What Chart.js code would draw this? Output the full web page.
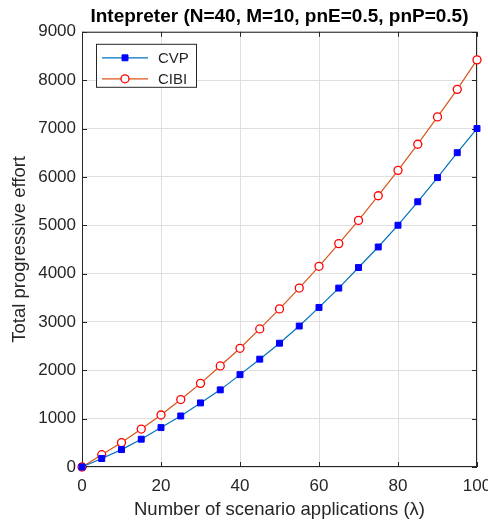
<!DOCTYPE html>
<html>
<head>
<meta charset="utf-8">
<script src="https://cdn.jsdelivr.net/npm/chart.js@4.4.1/dist/chart.umd.min.js"></script>
<style>
  html, body { margin: 0; padding: 0; background: #fff; }
  #chart { display: block; }
</style>
</head>
<body>
<canvas id="chart" width="488" height="524"></canvas>
<script>
// values
const lambdas = [0, 5, 10, 15, 20, 25, 30, 35, 40, 45, 50, 55, 60, 65, 70, 75, 80, 85, 90, 95, 100]
const cvpEffort = [0, 175, 360, 575, 815, 1055, 1325, 1595, 1910, 2230, 2560, 2915, 3300, 3700, 4125, 4550, 5000, 5485, 5985, 6500, 7000]
const cibiEffort = [0, 255, 505, 785, 1075, 1395, 1730, 2090, 2455, 2855, 3270, 3700, 4150, 4620, 5100, 5610, 6135, 6675, 7240, 7810, 8420]
const xTicks = [0, 20, 40, 60, 80, 100]
const yTicks = [0, 1000, 2000, 3000, 4000, 5000, 6000, 7000, 8000, 9000]

const FONT = '"Liberation Sans", Arial, sans-serif'
const AXIS_COLOR = '#262626'

const toPoints = (xs, ys) => xs.map((x, i) => ({ x: x, y: ys[i] }))

// MATLAB style box with inward ticks on all four sides
const axesBox = {
  id: 'axesBox',
  beforeDatasetsDraw(chart) {
    const { ctx, chartArea: a, scales: { x, y } } = chart
    const len = 5
    ctx.save()
    ctx.strokeStyle = AXIS_COLOR
    ctx.lineWidth = 1
    ctx.beginPath()
    xTicks.forEach(v => {
      const px = Math.round(x.getPixelForValue(v)) + 0.5
      ctx.moveTo(px, a.bottom); ctx.lineTo(px, a.bottom - len)
      ctx.moveTo(px, a.top); ctx.lineTo(px, a.top + len)
    })
    yTicks.forEach(v => {
      const py = Math.round(y.getPixelForValue(v)) + 0.5
      ctx.moveTo(a.left, py); ctx.lineTo(a.left + len, py)
      ctx.moveTo(a.right, py); ctx.lineTo(a.right - len, py)
    })
    ctx.stroke()
    ctx.strokeRect(a.left + 0.5, a.top + 0.5, a.right - a.left - 1, a.bottom - a.top - 1)
    ctx.restore()
  }
}

// legend box drawn inside the plot, top-left
const insideLegend = {
  id: 'insideLegend',
  afterDraw(chart) {
    const { ctx, chartArea: a } = chart
    const bx = a.left + 14, by = a.top + 12, bw = 100, bh = 43
    ctx.save()
    ctx.fillStyle = '#fff'
    ctx.fillRect(bx, by, bw, bh)
    ctx.strokeStyle = AXIS_COLOR
    ctx.lineWidth = 1
    ctx.strokeRect(bx + 0.5, by + 0.5, bw, bh)

    chart.data.datasets.forEach((ds, i) => {
      const cy = by + 14 + i * 21
      const mx = bx + 29
      ctx.strokeStyle = ds.borderColor
      ctx.lineWidth = ds.borderWidth
      ctx.beginPath()
      ctx.moveTo(bx + 6, cy); ctx.lineTo(bx + 52, cy)
      ctx.stroke()

      ctx.fillStyle = ds.pointBackgroundColor
      ctx.strokeStyle = ds.pointBorderColor
      ctx.lineWidth = ds.pointBorderWidth
      ctx.beginPath()
      if (ds.pointStyle === 'rect') {
        const s = ds.pointRadius * Math.SQRT1_2
        ctx.rect(mx - s, cy - s, 2 * s, 2 * s)
      } else {
        ctx.arc(mx, cy, ds.pointRadius, 0, Math.PI * 2)
      }
      ctx.fill(); ctx.stroke()

      ctx.fillStyle = AXIS_COLOR
      ctx.font = '15px ' + FONT
      ctx.textBaseline = 'middle'
      ctx.textAlign = 'left'
      ctx.fillText(ds.label, bx + 62, cy + 1)
    })
    ctx.restore()
  }
}

new Chart(document.getElementById('chart'), {
  type: 'line',
  data: {
    datasets: [{
      label: 'CVP',
      data: toPoints(lambdas, cvpEffort),
      borderColor: '#0072BD',
      borderWidth: 1.2,
      pointStyle: 'rect',
      pointRadius: 4.2,
      pointBorderWidth: 1,
      pointBackgroundColor: '#0000FF',
      pointBorderColor: '#0000FF',
      tension: 0,
      clip: false
    }, {
      label: 'CIBI',
      data: toPoints(lambdas, cibiEffort),
      borderColor: '#D95319',
      borderWidth: 1.2,
      pointStyle: 'circle',
      pointRadius: 4,
      pointBorderWidth: 1.3,
      pointBackgroundColor: '#ffffff',
      pointBorderColor: '#FF0000',
      tension: 0,
      clip: false
    }]
  },
  options: {
    responsive: false,
    animation: false,
    devicePixelRatio: 1,
    layout: { padding: { left: 0, right: 11, top: 0, bottom: 0 } },
    plugins: {
      legend: { display: false },
      tooltip: { enabled: false },
      title: {
        display: true,
        text: 'Intepreter (N=40, M=10, pnE=0.5, pnP=0.5)',
        fullSize: false,
        color: '#000',
        font: { family: FONT, size: 19, weight: 'bold' },
        padding: { top: 5, bottom: 4 }
      }
    },
    scales: {
      x: {
        type: 'linear',
        min: xTicks[0],
        max: xTicks[xTicks.length - 1],
        afterBuildTicks: s => { s.ticks = xTicks.map(v => ({ value: v })) },
        afterFit: s => { s.height = 57; s.paddingLeft = 0; s.paddingRight = 0 },
        grid: { color: '#dfdfdf', drawTicks: false },
        border: { display: false },
        ticks: { color: AXIS_COLOR, padding: 9, font: { family: FONT, size: 17 }, callback: v => String(v) },
        title: {
          display: true,
          text: 'Number of scenario applications (λ)',
          color: AXIS_COLOR,
          font: { family: FONT, size: 18.5 },
          padding: { top: 0, bottom: 3 }
        }
      },
      y: {
        type: 'linear',
        min: yTicks[0],
        max: yTicks[yTicks.length - 1],
        afterBuildTicks: s => { s.ticks = yTicks.map(v => ({ value: v })) },
        afterFit: s => { s.width = 82; s.paddingTop = 0; s.paddingBottom = 0 },
        grid: { color: '#dfdfdf', drawTicks: false },
        border: { display: false },
        ticks: { color: AXIS_COLOR, padding: 6, font: { family: FONT, size: 17 }, callback: v => String(v) },
        title: {
          display: true,
          text: 'Total progressive effort',
          color: AXIS_COLOR,
          font: { family: FONT, size: 18.5 },
          padding: { top: 9, bottom: 0 }
        }
      }
    }
  },
  plugins: [axesBox, insideLegend]
})
</script>
</body>
</html>
